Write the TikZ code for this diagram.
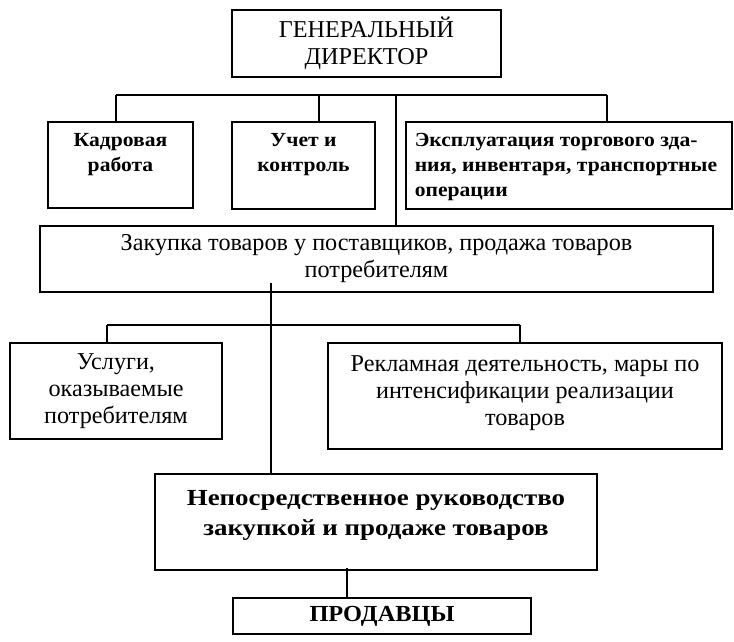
\documentclass[tikz,border=0pt]{standalone}
\usepackage{fontspec}
\setmainfont{Liberation Serif}
\usetikzlibrary{calc}
\tikzset{box/.style={draw,line width=1.6pt,inner sep=0pt},
  reg/.style={font=\fontsize{24.2}{27}\selectfont,align=center,inner sep=0pt},
  bf/.style={font=\fontsize{20}{25}\selectfont\bfseries\addfontfeature{FakeStretch=1.08},inner sep=0pt}}

\begin{document}
\begin{tikzpicture}[x=1pt,y=-1pt,line width=1.2pt]
\useasboundingbox (0,0) rectangle (734,642);

\node[box,reg,minimum width=269pt,minimum height=67pt] (gd) at (366.5,43.5) {ГЕНЕРАЛЬНЫЙ\\ДИРЕКТОР};

\node[box,minimum width=145pt,minimum height=86pt] (kadr) at (120.5,165) {};
\node[box,minimum width=143pt,minimum height=87pt] (uchet) at (303.5,165.5) {};
\node[box,minimum width=326pt,minimum height=87pt] (expl) at (569,165.5) {};
\node[bf,align=center,anchor=base] (kadrT) at ($(kadr.north)+(0,50)$) {Кадровая\\работа};
\node[bf,align=center,anchor=base] (uchetT) at ($(uchet.north)+(0,50)$) {Учет и\\контроль};
\node[bf,align=left,anchor=base west] (explT) at ($(expl.north west)+(9,75)$) {Эксплуатация торгового зда-\\ния, инвентаря, транспортные\\операции};

\node[box,reg,minimum width=673pt,minimum height=66pt] (zak) at (376.5,259) {Закупка товаров у поставщиков, продажа товаров\\потребителям};

\node[box,reg,minimum width=212pt,minimum height=96pt] (usl) at (116,391) {Услуги,\\оказываемые\\потребителям};
\node[box,minimum width=394pt,minimum height=106pt] (rekl) at (525,396) {};
\node[reg] (reklT) at ($(rekl)+(0,-3)$) {Рекламная деятельность, мары по\\интенсификации реализации\\товаров};

\node[box,line width=2.4pt,minimum width=442pt,minimum height=96pt] (nep) at (376,522) {};
\node[bf,font=\fontsize{23}{30}\selectfont\bfseries\addfontfeature{FakeStretch=1.17},align=center,anchor=base] (nepT) at ($(nep.north)+(0,63)$) {Непосредственное руководство\\закупкой и продаже товаров};

\node[box,bf,font=\fontsize{23}{25}\selectfont\bfseries\addfontfeature{FakeStretch=1.06},minimum width=298pt,minimum height=36pt] (prod) at (382,616) {ПРОДАВЦЫ};

% first level
\coordinate (b1) at (116,95);
\coordinate (b2) at (607,95);
\draw (b1) -- (b2);
\draw (b1) -- (b1 |- kadr.north);
\draw (319,95) -- (319,95 |- uchet.north);
\draw (b2) -- (b2 |- expl.north);
\draw (396,95) -- (396,95 |- zak.north);

% second level
\coordinate (z1) at (271,283);
\coordinate (c1) at (107,325);
\coordinate (c2) at (520,325);
\draw (z1) -- (z1 |- nep.north);
\draw (c1) -- (c2);
\draw (c1) -- (c1 |- usl.north);
\draw (c2) -- (c2 |- rekl.north);
\coordinate (n1) at (347,568);
\draw (n1) -- (n1 |- prod.north);
\end{tikzpicture}
\end{document}
